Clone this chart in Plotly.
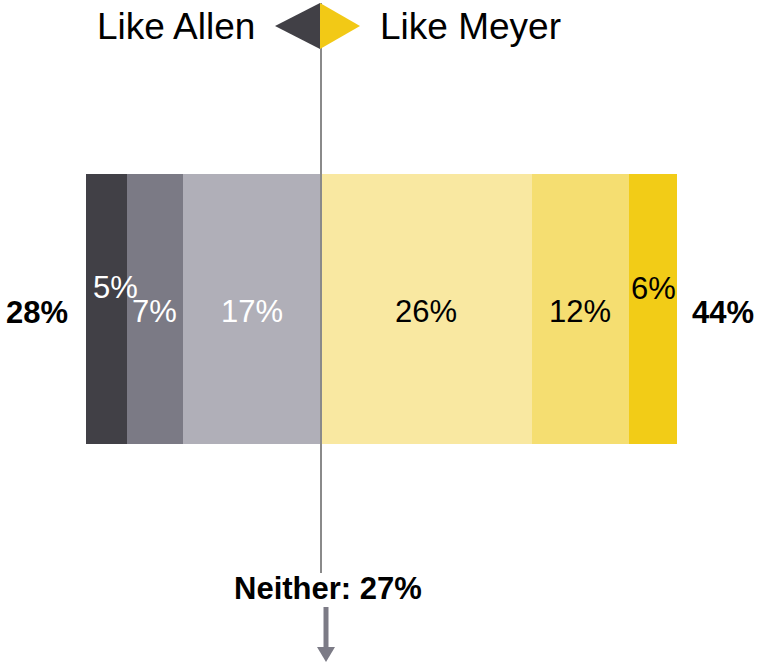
import plotly.graph_objects as go

# ---- data ----
allen_labels = ["Somewhat more like Allen", "More like Allen", "Much more like Allen"]
allen_values = [17, 7, 5]          # inner -> outer
allen_colors = ["#b0afb8", "#7b7a85", "#414046"]

meyer_labels = ["Somewhat more like Meyer", "More like Meyer", "Much more like Meyer"]
meyer_values = [26, 12, 6]         # inner -> outer
meyer_colors = ["#f9e8a1", "#f5de71", "#f2cc17"]

allen_total = "28%"
meyer_total = "44%"
neither_text = "Neither: 27%"

OFF = 0                      # body margin removed below
W, H = 759 - OFF, 663 - OFF
PX_PER_UNIT = 8.1
CENTER_PX = 321 - OFF
x_range = [-CENTER_PX / PX_PER_UNIT, (W - CENTER_PX) / PX_PER_UNIT]
BAR_PX = 270
BAR_CENTER_PX = 309 - OFF
y_range = [-(H - BAR_CENTER_PX) / BAR_PX, BAR_CENTER_PX / BAR_PX]


def py(p):  # screen pixel row -> paper y
    return 1 - (p - OFF) / H


def px(p):  # screen pixel column -> data x
    return (p - OFF - CENTER_PX) / PX_PER_UNIT


FONT = "Liberation Sans, Arial, sans-serif"
LS = 31

fig = go.Figure()
for lab, v, c in zip(allen_labels, allen_values, allen_colors):
    fig.add_trace(go.Bar(y=[0], x=[-v], orientation="h", name=lab,
                         marker=dict(color=c, line=dict(width=0)), width=1))
for lab, v, c in zip(meyer_labels, meyer_values, meyer_colors):
    fig.add_trace(go.Bar(y=[0], x=[v], orientation="h", name=lab,
                         marker=dict(color=c, line=dict(width=0)), width=1))

annotations = []
# segment labels
cum = 0
for i, v in enumerate(allen_values):
    mid = -(cum + v / 2)
    cum += v
    outer = i == len(allen_values) - 1
    annotations.append(dict(x=mid, y=0, xref="x", yref="y", text=f"{v}%",
                            showarrow=False, xshift=9 if outer else 0,
                            yshift=22 if outer else -2,
                            font=dict(family=FONT, size=LS, color="white")))
cum = 0
for i, v in enumerate(meyer_values):
    mid = cum + v / 2
    cum += v
    outer = i == len(meyer_values) - 1
    annotations.append(dict(x=mid, y=0, xref="x", yref="y", text=f"{v}%",
                            showarrow=False, yshift=21 if outer else -2,
                            font=dict(family=FONT, size=LS, color="black")))

# totals
annotations.append(dict(x=-sum(allen_values), y=0, xref="x", yref="y", text=f"<b>{allen_total}</b>",
                        showarrow=False, xanchor="right", xshift=-16, yshift=-3,
                        font=dict(family=FONT, size=LS, color="black")))
annotations.append(dict(x=sum(meyer_values), y=0, xref="x", yref="y", text=f"<b>{meyer_total}</b>",
                        showarrow=False, xanchor="left", xshift=13, yshift=-3,
                        font=dict(family=FONT, size=LS, color="black")))

# header texts
annotations.append(dict(x=px(257), y=py(27), xref="x", yref="paper", text="Like Allen",
                        showarrow=False, xanchor="right", yanchor="middle",
                        font=dict(family=FONT, size=37, color="black")))
annotations.append(dict(x=px(378), y=py(27), xref="x", yref="paper", text="Like Meyer",
                        showarrow=False, xanchor="left", yanchor="middle",
                        font=dict(family=FONT, size=37, color="black")))
annotations.append(dict(x=px(328), y=py(588), xref="x", yref="paper", text=f"<b>{neither_text}</b>",
                        showarrow=False, xanchor="center", yanchor="middle",
                        font=dict(family=FONT, size=LS, color="black")))

shapes = []
# vertical centre line
shapes.append(dict(type="line", xref="x", yref="paper", x0=0, x1=0, y0=py(3), y1=py(573),
                   line=dict(color="#8a8a8a", width=2), layer="above"))
# triangles
shapes.append(dict(type="path", xref="x", yref="paper",
                   path=f"M {px(275)} {py(26)} L {px(320)} {py(3)} L {px(320)} {py(49)} Z",
                   fillcolor="#414046", line=dict(width=0), layer="above"))
shapes.append(dict(type="path", xref="x", yref="paper",
                   path=f"M {px(360)} {py(26)} L {px(320)} {py(3)} L {px(320)} {py(49)} Z",
                   fillcolor="#f2c916", line=dict(width=0), layer="above"))
# down arrow
shapes.append(dict(type="rect", xref="x", yref="paper", x0=px(323.5), x1=px(328.5),
                   y0=py(607), y1=py(648), fillcolor="#7c7b86", line=dict(width=0)))
shapes.append(dict(type="path", xref="x", yref="paper",
                   path=f"M {px(317)} {py(647)} L {px(335)} {py(647)} L {px(326)} {py(662)} Z",
                   fillcolor="#7c7b86", line=dict(width=0)))

fig.update_layout(
    width=W, height=H, barmode="relative", showlegend=False,
    margin=dict(l=0, r=0, t=0, b=0),
    paper_bgcolor="white", plot_bgcolor="white",
    xaxis=dict(range=x_range, visible=False, fixedrange=True),
    yaxis=dict(range=y_range, visible=False, fixedrange=True),
    annotations=annotations, shapes=shapes,
    bargap=0,
)
fig.write_html("out.html", config={"displayModeBar": False},
               post_script="document.body.style.margin='0';document.body.style.overflow='hidden';")
